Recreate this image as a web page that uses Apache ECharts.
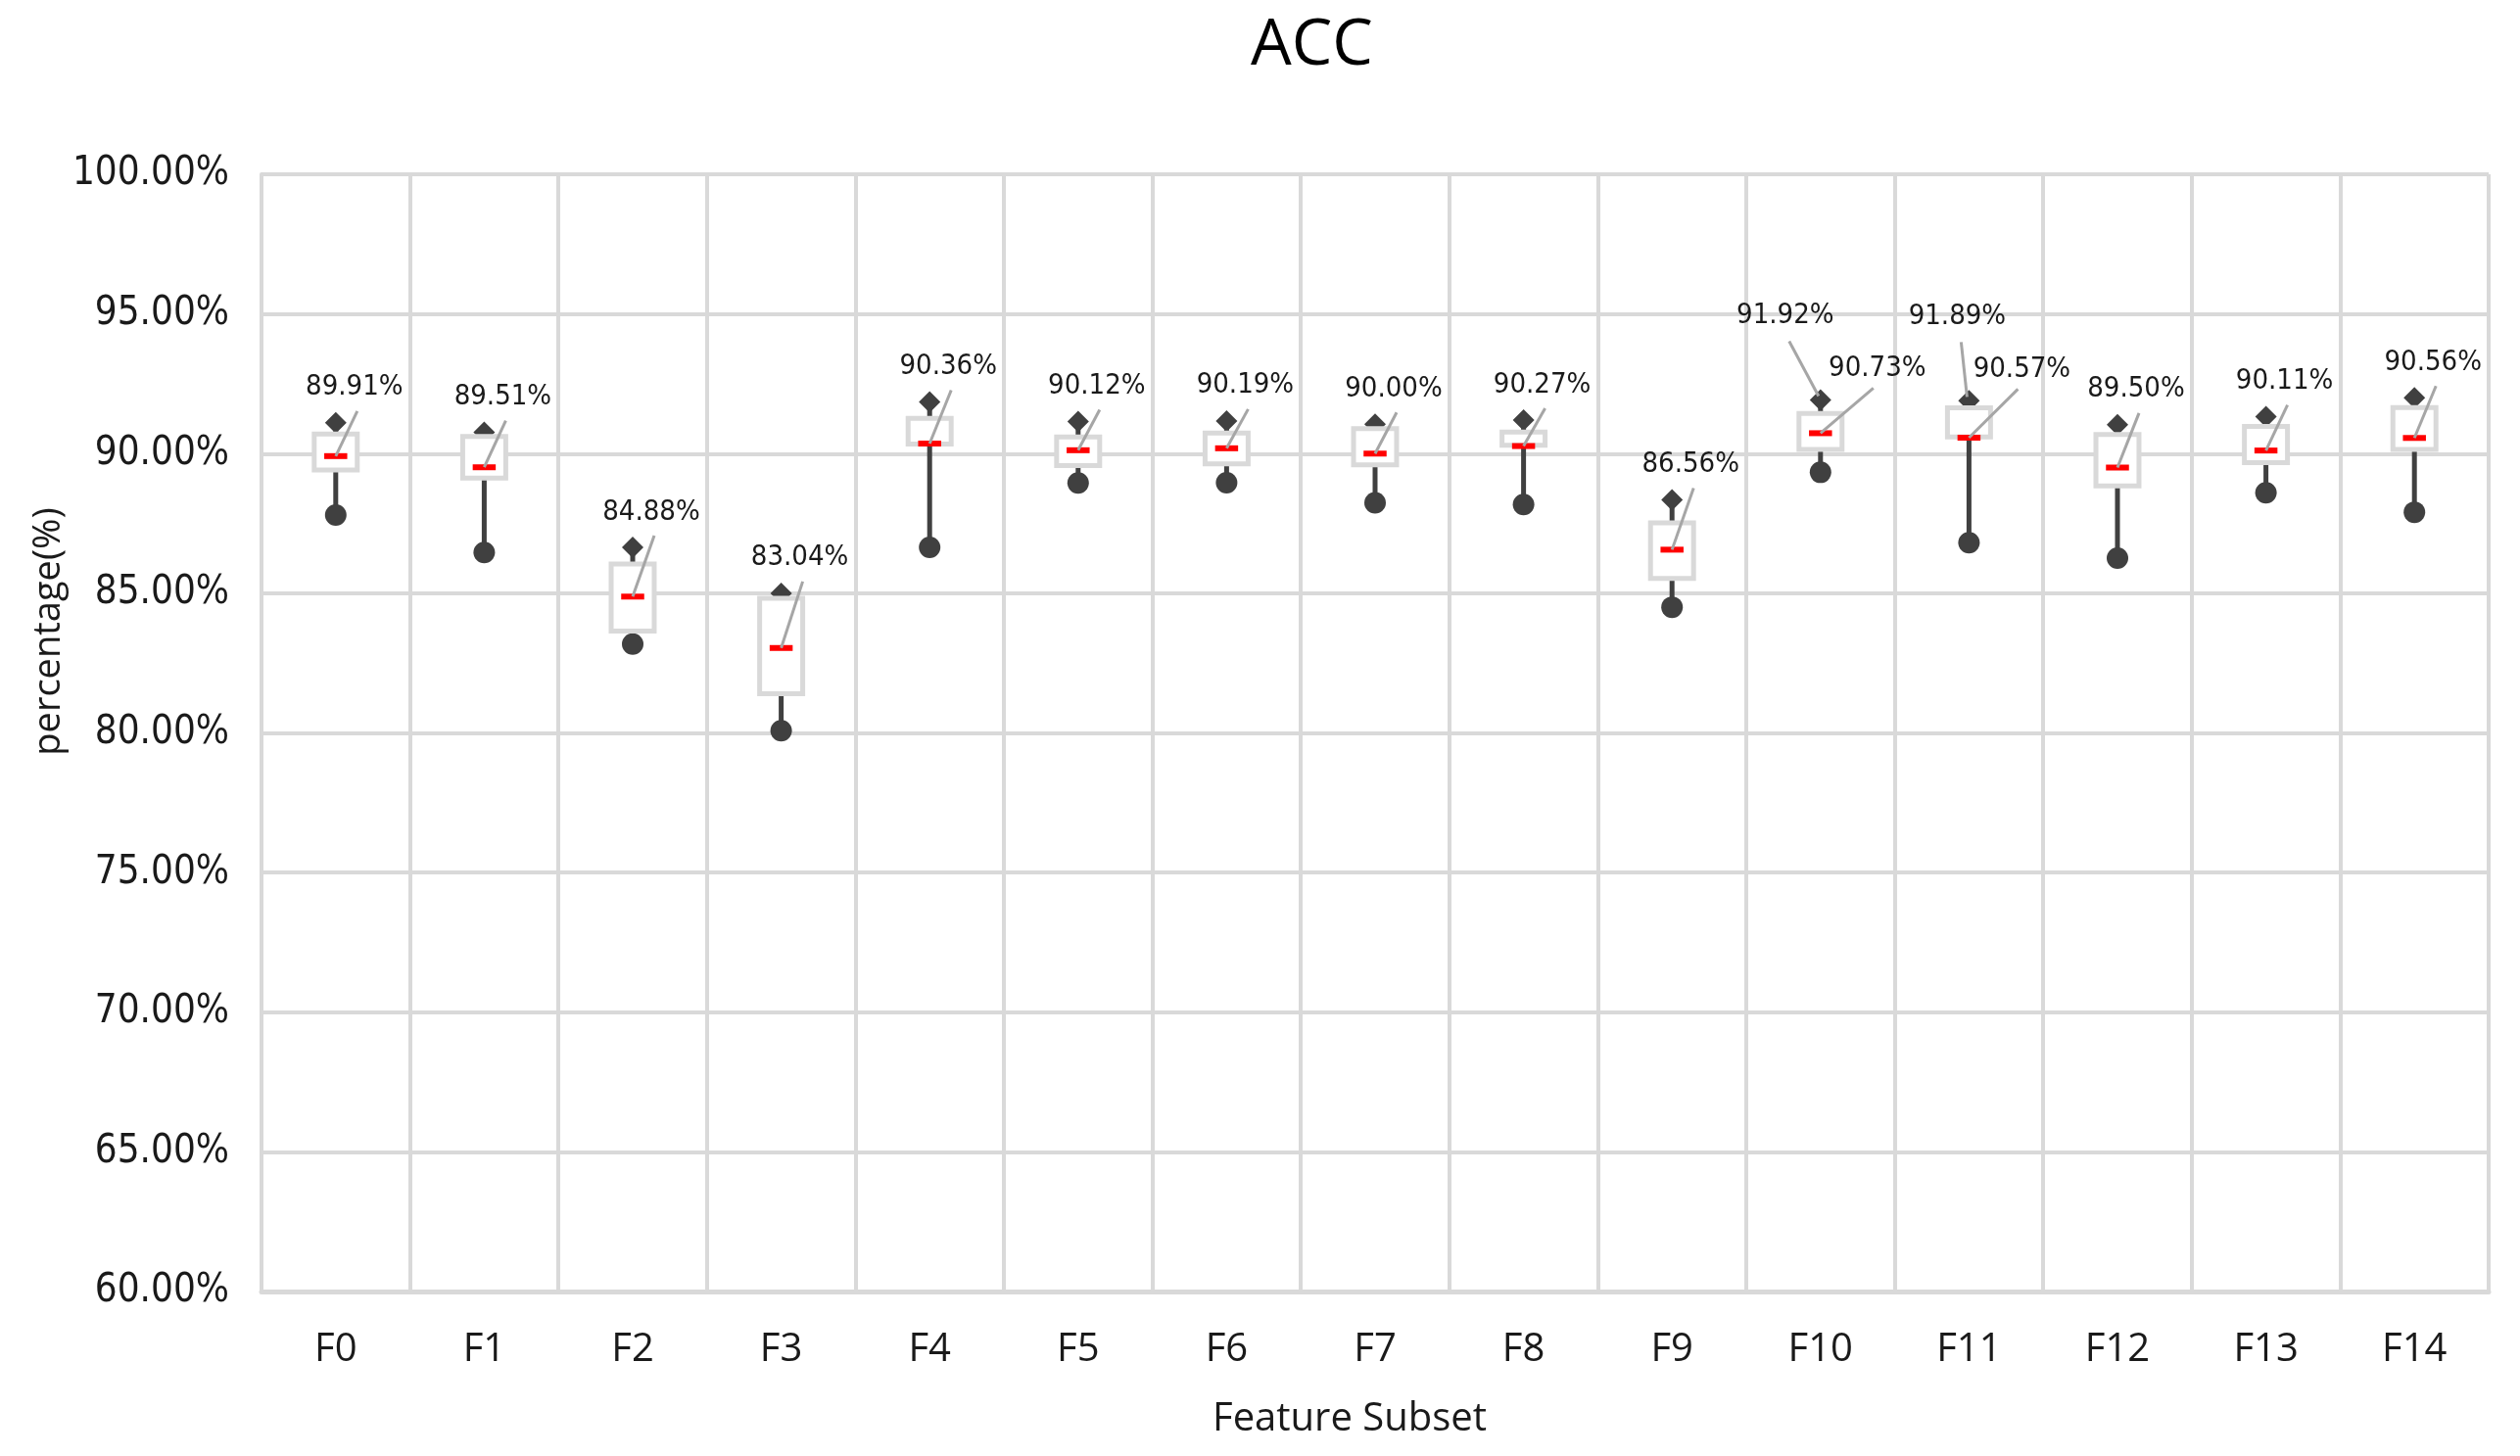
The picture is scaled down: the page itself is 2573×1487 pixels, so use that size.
<!DOCTYPE html>
<html>
<head>
<meta charset="utf-8">
<script src="https://cdn.jsdelivr.net/npm/echarts@6/dist/echarts.min.js"></script>
<style>
html,body{margin:0;padding:0;background:#fff;}
#chart{width:2573px;height:1487px;}
</style>
</head>
<body>
<div id="chart"></div>
<script>
// ---- data ----
const categories = ['F0','F1','F2','F3','F4','F5','F6','F7','F8','F9','F10','F11','F12','F13','F14'];
const minVals    = [87.80, 86.46, 83.18, 80.08, 86.64, 88.95, 88.96, 88.24, 88.18, 84.50, 89.33, 86.81, 86.26, 88.60, 87.90];
const q1Vals     = [89.41, 89.12, 83.65, 81.40, 90.34, 89.57, 89.63, 89.60, 90.30, 85.53, 90.15, 90.60, 88.84, 89.68, 90.15];
const medianVals = [89.91, 89.51, 84.88, 83.04, 90.36, 90.12, 90.19, 90.00, 90.27, 86.56, 90.73, 90.57, 89.50, 90.11, 90.56];
const q3Vals     = [90.70, 90.61, 86.05, 84.82, 91.26, 90.60, 90.74, 90.89, 90.77, 87.52, 91.44, 91.64, 90.68, 90.97, 91.65];
const maxVals    = [91.10, 90.76, 86.64, 85.00, 91.85, 91.15, 91.17, 91.05, 91.20, 88.34, 91.92, 91.89, 91.03, 91.32, 92.00];
const maxLabelShown = [false,false,false,false,false,false,false,false,false,false,true,true,false,false,false];
const yMin = 60, yMax = 100, yInterval = 5;

// label layout (pixel offsets, style only)
const defaultLabelLayout = {medDx: 19, medDy: -36, lineDx: 22, lineDy: -12};
const twoLabelLayout = {
  10: {maxDx: -36, medDx: 58},
  11: {maxDx: -12, medDx: 54}
};

const chart = echarts.init(document.getElementById('chart'));

const labelFont = '29px "DejaVu Sans Condensed", "DejaVu Sans", sans-serif';
const fmt = v => v.toFixed(2) + '%';

function renderItem(params, api) {
  const i = api.value(0);
  const pMin = api.coord([i, api.value(1)]);
  const pQ1 = api.coord([i, api.value(2)]);
  const pMed = api.coord([i, api.value(3)]);
  const pQ3 = api.coord([i, api.value(4)]);
  const pMax = api.coord([i, api.value(5)]);
  const band = api.size([1, 0])[0];
  const x = pMed[0];
  const boxW = band * 0.29;
  const medW = band * 0.155;
  const d = 11;
  const children = [
    {type:'line', shape:{x1:x, y1:pMin[1], x2:x, y2:pMax[1]}, style:{stroke:'#404040', lineWidth:5}},
    {type:'polygon', shape:{points:[[x, pMax[1]-d],[x+d, pMax[1]],[x, pMax[1]+d],[x-d, pMax[1]]]}, style:{fill:'#404040'}},
    {type:'circle', shape:{cx:x, cy:pMin[1], r:11}, style:{fill:'#404040'}},
    {type:'rect', shape:{x:x-boxW/2, y:pQ3[1], width:boxW, height:pQ1[1]-pQ3[1]}, style:{fill:'#ffffff', stroke:'#d9d9d9', lineWidth:5}},
    {type:'line', shape:{x1:x-medW/2, y1:pMed[1], x2:x+medW/2, y2:pMed[1]}, style:{stroke:'#ff0000', lineWidth:6}}
  ];
  const medText = fmt(api.value(3));
  if (maxLabelShown[i]) {
    const L = twoLabelLayout[i] || {maxDx: -24, medDx: 52};
    const maxText = fmt(api.value(5));
    children.push(
      {type:'line', shape:{x1:x+L.maxDx+4, y1:pMax[1]-60, x2:x-2, y2:pMax[1]-4}, style:{stroke:'#a6a6a6', lineWidth:3}},
      {type:'text', x:x+L.maxDx, y:pMax[1]-86, style:{text:maxText, font:labelFont, fill:'#1a1a1a', align:'center', verticalAlign:'middle'}},
      {type:'line', shape:{x1:x, y1:pMed[1], x2:x+L.medDx-4, y2:pMax[1]-12}, style:{stroke:'#a6a6a6', lineWidth:3}},
      {type:'text', x:x+L.medDx, y:pMax[1]-32, style:{text:medText, font:labelFont, fill:'#1a1a1a', align:'center', verticalAlign:'middle'}}
    );
  } else {
    const L = defaultLabelLayout;
    children.push(
      {type:'line', shape:{x1:x, y1:pMed[1], x2:x+L.lineDx, y2:pMax[1]+L.lineDy}, style:{stroke:'#a6a6a6', lineWidth:3}},
      {type:'text', x:x+L.medDx, y:pMax[1]+L.medDy, style:{text:medText, font:labelFont, fill:'#1a1a1a', align:'center', verticalAlign:'middle'}}
    );
  }
  return {type:'group', children};
}

const seriesData = categories.map((c, i) => [i, minVals[i], q1Vals[i], medianVals[i], q3Vals[i], maxVals[i]]);

chart.setOption({
  animation: false,
  backgroundColor: '#ffffff',
  title: {
    text: 'ACC',
    left: 1272,
    top: 9,
    textStyle: {fontFamily: '"Open Sans", "Noto Sans", sans-serif', fontSize: 66, fontWeight: 'normal', color: '#000000'}
  },
  grid: {left: 267, right: 32, top: 178, bottom: 168},
  xAxis: {
    type: 'category',
    data: categories,
    boundaryGap: true,
    axisTick: {show: false},
    axisLine: {show: true, lineStyle: {color: '#d9d9d9', width: 5}},
    axisLabel: {interval: 0, margin: 40, color: '#1a1a1a', fontFamily: '"Open Sans", "Noto Sans", sans-serif', fontSize: 40},
    splitLine: {show: true, interval: 0, lineStyle: {color: '#d9d9d9', width: 4}}
  },
  yAxis: {
    type: 'value',
    min: yMin, max: yMax, interval: yInterval,
    axisLine: {show: true, lineStyle: {color: '#d9d9d9', width: 4}},
    axisTick: {show: false},
    axisLabel: {margin: 33, color: '#1a1a1a', fontFamily: '"DejaVu Sans Condensed", "DejaVu Sans", sans-serif', fontSize: 40, formatter: v => v.toFixed(2) + '%'},
    splitLine: {show: true, lineStyle: {color: '#d9d9d9', width: 4}}
  },
  graphic: [
    {type:'text', x:50, y:645, rotation: Math.PI/2, style:{text:'percentage(%)', font:'38px "Open Sans", "Noto Sans", sans-serif', fill:'#1a1a1a', align:'center', verticalAlign:'middle'}},
    {type:'text', x:1378, y:1450, style:{text:'Feature Subset', font:'40px "Open Sans", "Noto Sans", sans-serif', fill:'#1a1a1a', align:'center', verticalAlign:'middle'}}
  ],
  series: [{
    type: 'custom',
    renderItem: renderItem,
    data: seriesData,
    encode: {x: 0, y: [1, 2, 3, 4, 5]},
    clip: false
  }]
});
</script>
</body>
</html>
